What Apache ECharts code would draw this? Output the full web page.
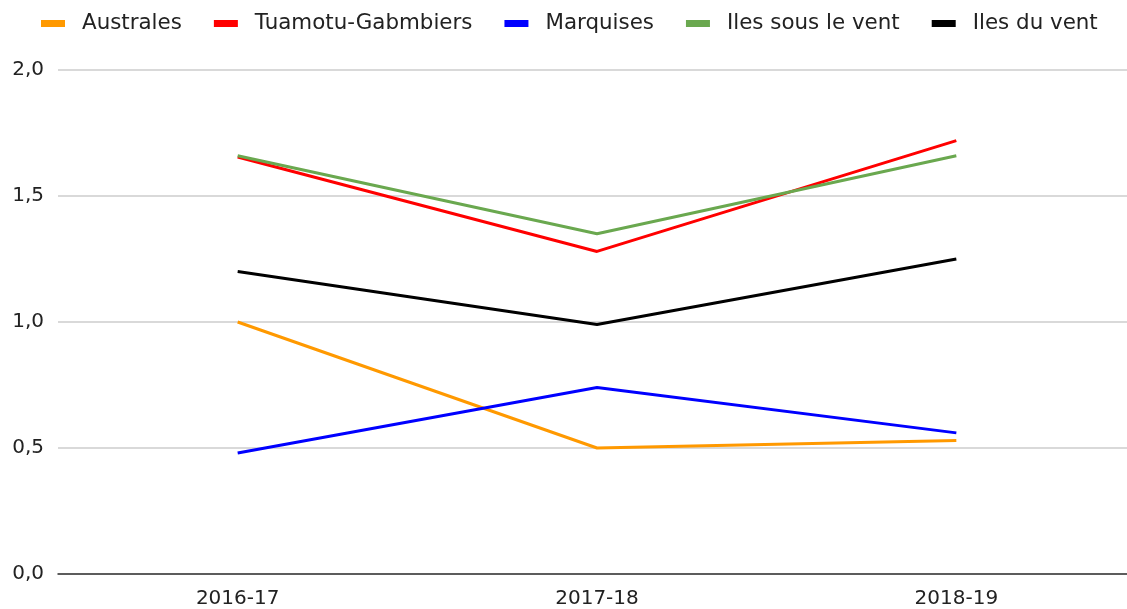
<!DOCTYPE html>
<html>
<head>
<meta charset="utf-8">
<script src="https://cdn.jsdelivr.net/npm/echarts@6/dist/echarts.min.js"></script>
<style>
  html, body { margin: 0; padding: 0; background: #fff; }
  #chart { width: 1127px; height: 609px; }
</style>
</head>
<body>
<div id="chart"></div>
<script>
const categories = ['2016-17', '2017-18', '2018-19'];
const australes = [1.0, 0.5, 0.53];
const tuamotu = [1.655, 1.28, 1.72];
const marquises = [0.48, 0.74, 0.56];
const ilesSousLeVent = [1.66, 1.35, 1.66];
const ilesDuVent = [1.2, 0.99, 1.25];

const chart = echarts.init(document.getElementById('chart'));

function line(name, data, color) {
    return {
        name: name,
        type: 'line',
        data: data,
        showSymbol: false,
        symbol: 'none',
        lineStyle: { color: color, width: 3 },
        itemStyle: { color: color }
    };
}

const option = {
    animation: false,
    textStyle: { fontFamily: 'DejaVu Sans, sans-serif' },
    legend: {
        left: 41,
        top: 13,
        padding: 0,
        itemWidth: 24,
        itemHeight: 7,
        itemGap: 32,
        icon: 'rect',
        textStyle: { fontSize: 21.4, color: '#222', padding: [0, 0, 0, 12] }
    },
    // plot runs a little past the right edge in the original
    grid: { left: 58, top: 70, bottom: 35, width: 1078, containLabel: false, outerBoundsMode: 'none' },
    xAxis: {
        type: 'category',
        data: categories,
        axisTick: { show: false },
        axisLine: { lineStyle: { color: '#333', width: 1.5 } },
        axisLabel: { fontSize: 20, color: '#222', margin: 15 }
    },
    yAxis: {
        type: 'value',
        min: 0,
        max: 2,
        interval: 0.5,
        axisLabel: {
            fontSize: 20,
            color: '#222',
            margin: 14,
            formatter: function(v) { return v.toFixed(1).replace('.', ','); }
        },
        splitLine: { lineStyle: { color: '#ccc', width: 1.5 } }
    },
    series: [
        line('Australes', australes, '#ff9900'),
        line('Tuamotu-Gabmbiers', tuamotu, '#ff0000'),
        line('Marquises', marquises, '#0000ff'),
        line('Iles sous le vent', ilesSousLeVent, '#6aa84f'),
        line('Iles du vent', ilesDuVent, '#000000')
    ]
};

chart.setOption(option);
</script>
</body>
</html>
